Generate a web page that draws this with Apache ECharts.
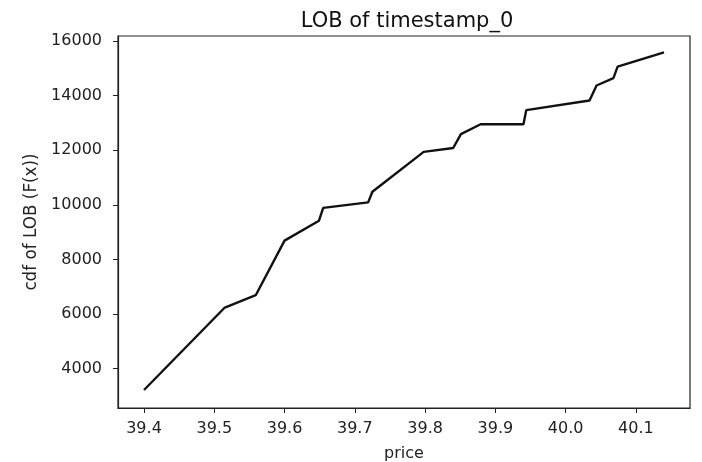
<!DOCTYPE html>
<html>
<head>
<meta charset="utf-8">
<script src="https://cdn.jsdelivr.net/npm/echarts@6/dist/echarts.min.js"></script>
<style>
  html, body { margin: 0; padding: 0; background: #fff; }
  #chart { width: 702px; height: 462px; }
</style>
</head>
<body>
<div id="chart"></div>
<script>
// price levels and cumulative LOB volume
const prices = [39.40, 39.515, 39.559, 39.600, 39.649, 39.655, 39.719, 39.725, 39.798, 39.840,
  39.851, 39.879, 39.940, 39.944, 40.034, 40.044, 40.068, 40.074, 40.140]
const cdf = [3220, 6240, 6690, 8690, 9420, 9890, 10090, 10480, 11940, 12080,
  12590, 12950, 12950, 13470, 13820, 14370, 14640, 15060, 15580]
const xTicks = [39.4, 39.5, 39.6, 39.7, 39.8, 39.9, 40.0, 40.1]
const yTicks = [4000, 6000, 8000, 10000, 12000, 14000, 16000]

const font = 'DejaVu Sans'
const chart = echarts.init(document.getElementById('chart'))
chart.setOption({
  animation: false,
  title: {
    text: 'LOB of timestamp_0',
    left: 402,
    textAlign: 'center',
    top: 6,
    textStyle: { fontFamily: font, fontSize: 21, fontWeight: 'normal', color: '#111' }
  },
  grid: {
    left: 118, right: 12, top: 36, bottom: 54,
    outerBoundsMode: 'none',
    containLabel: false,
    show: true, borderColor: '#222', borderWidth: 1.2, backgroundColor: '#fff'
  },
  xAxis: {
    type: 'value',
    min: 39.363,
    max: 40.177,
    name: 'price',
    nameLocation: 'middle',
    nameGap: 38,
    nameTextStyle: { fontFamily: font, fontSize: 16, color: '#222' },
    axisLine: { show: true, onZero: false, lineStyle: { color: '#222', width: 1.2 } },
    axisTick: { show: true, length: 5, customValues: xTicks, lineStyle: { color: '#222' } },
    axisLabel: {
      customValues: xTicks, margin: 13,
      fontFamily: font, fontSize: 16, color: '#222',
      formatter: v => v.toFixed(1)
    },
    splitLine: { show: false }
  },
  yAxis: {
    type: 'value',
    min: 2560,
    max: 16183,
    name: 'cdf of LOB (F(x))',
    nameLocation: 'middle',
    nameGap: 75,
    nameTextStyle: { fontFamily: font, fontSize: 16.8, color: '#222', padding: [0, 0, 0, 0] },
    axisLine: { show: true, onZero: false, lineStyle: { color: '#222', width: 1.2 } },
    axisTick: { show: true, length: 5, customValues: yTicks, lineStyle: { color: '#222' } },
    axisLabel: {
      customValues: yTicks, margin: 16,
      fontFamily: font, fontSize: 16, color: '#222',
      formatter: v => String(v)
    },
    splitLine: { show: false }
  },
  series: [{
    type: 'line',
    data: prices.map((p, i) => [p, cdf[i]]),
    showSymbol: false,
    lineStyle: { color: '#111', width: 2.4 }
  }]
})
</script>
</body>
</html>
